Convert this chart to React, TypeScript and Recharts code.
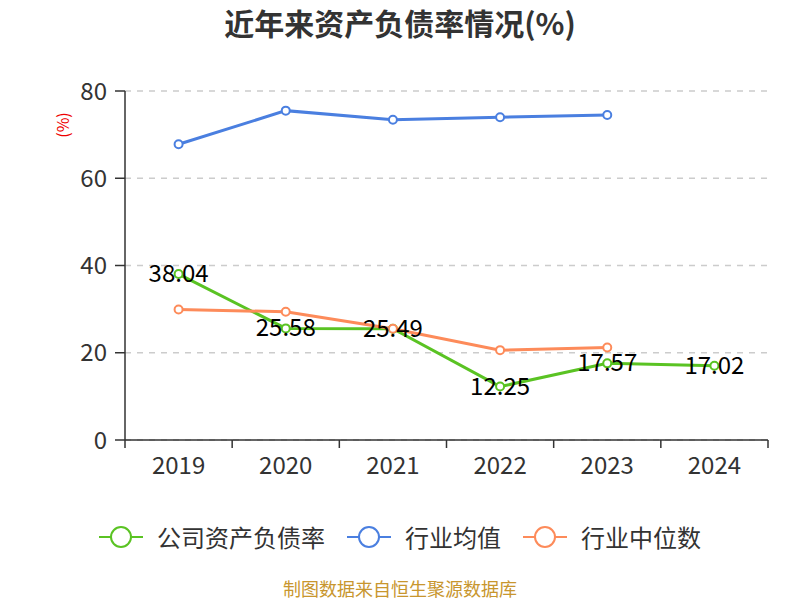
import React from 'react'
import { LineChart, Line, XAxis, YAxis, CartesianGrid, LabelList } from 'recharts'

const years = ['2019', '2020', '2021', '2022', '2023', '2024']
const companyRatio = [38.04, 25.58, 25.49, 12.25, 17.57, 17.02]
const industryAvg = [67.8, 75.5, 73.4, 74.0, 74.5, null]
const industryMedian = [29.9, 29.4, 25.5, 20.6, 21.2, null]
const yTicks = [0, 20, 40, 60, 80]

const data = years.map((year, i) => ({
  year,
  company: companyRatio[i],
  avg: industryAvg[i],
  median: industryMedian[i],
}))

const FONT = '"Noto Sans CJK SC", "Noto Sans", sans-serif'
const GREEN = '#5ac323'
const BLUE = '#4a7fe0'
const ORANGE = '#fd8b5a'

const PLOT_LEFT = 125
const PLOT_RIGHT = 768
const BAND = (PLOT_RIGHT - PLOT_LEFT) / years.length

const XTick = ({ x, y, payload, index }: any) => (
  <g>
    <line x1={x - BAND / 2} y1={y} x2={x - BAND / 2} y2={y + 8} stroke="#333" strokeWidth={1.5} />
    {index === years.length - 1 && (
      <line x1={x + BAND / 2} y1={y} x2={x + BAND / 2} y2={y + 8} stroke="#333" strokeWidth={1.5} />
    )}
    <text x={x} y={y + 34} textAnchor="middle" fontSize={24} fill="#333" fontFamily={FONT}>
      {payload.value}
    </text>
  </g>
)

const ValueLabel = ({ x, y, value }: any) => (
  <text x={x} y={y + 8} textAnchor="middle" fontSize={24} fill="#000" fontFamily={FONT}>
    {Number(value).toFixed(2)}
  </text>
)

const legendItems = [
  { name: '公司资产负债率', color: GREEN },
  { name: '行业均值', color: BLUE },
  { name: '行业中位数', color: ORANGE },
]

const LegendIcon = ({ color }: { color: string }) => (
  <svg width={44} height={24} style={{ display: 'block' }}>
    <line x1={0} y1={12} x2={44} y2={12} stroke={color} strokeWidth={2} />
    <circle cx={22} cy={12} r={10} fill="#fff" stroke={color} strokeWidth={2} />
  </svg>
)

export default function App() {
  return (
    <div style={{ position: 'absolute', left: 0, top: 0, width: 800, height: 600, background: '#fff', fontFamily: FONT, overflow: 'hidden' }}>
      <div style={{ position: 'absolute', top: 2, width: 800, textAlign: 'center', fontSize: 30, lineHeight: '40px', fontWeight: 700, color: '#333' }}>
        近年来资产负债率情况(%)
      </div>
      <div
        style={{
          position: 'absolute', left: 62, top: 125, transform: 'translate(-50%, -50%) rotate(-90deg)',
          color: '#e00', fontSize: 16, whiteSpace: 'nowrap',
        }}
      >
        (%)
      </div>
      <LineChart
        width={800}
        height={600}
        data={data}
        margin={{ top: 91, right: 800 - PLOT_RIGHT, bottom: 130, left: PLOT_LEFT - 60 }}
      >
        <CartesianGrid vertical={false} stroke="#ccc" strokeDasharray="6 6" strokeWidth={1.5} />
        <XAxis
          dataKey="year"
          scale="band"
          height={30}
          axisLine={{ stroke: '#333', strokeWidth: 1.5 }}
          tickLine={false}
          tickSize={0}
          tickMargin={0}
          tick={<XTick />}
          interval={0}
        />
        <YAxis
          width={60}
          domain={[0, 80]}
          ticks={yTicks}
          axisLine={{ stroke: '#333', strokeWidth: 1.5 }}
          tickLine={{ stroke: '#333', strokeWidth: 1.5 }}
          tickSize={10}
          tickMargin={8}
          tick={{ fontSize: 24, fill: '#333', fontFamily: FONT }}
        />
        <Line
          dataKey="company"
          stroke={GREEN}
          strokeWidth={3}
          dot={{ r: 4, fill: '#fff', stroke: GREEN, strokeWidth: 2 }}
          activeDot={false}
          isAnimationActive={false}
        />
        <Line
          dataKey="avg"
          stroke={BLUE}
          strokeWidth={3}
          dot={{ r: 4, fill: '#fff', stroke: BLUE, strokeWidth: 2 }}
          activeDot={false}
          isAnimationActive={false}
        />
        <Line
          dataKey="median"
          stroke={ORANGE}
          strokeWidth={3}
          dot={{ r: 4, fill: '#fff', stroke: ORANGE, strokeWidth: 2 }}
          activeDot={false}
          isAnimationActive={false}
        />
        <Line dataKey="company" stroke="none" dot={false} activeDot={false} isAnimationActive={false}>
          <LabelList dataKey="company" content={<ValueLabel />} />
        </Line>
      </LineChart>
      <div
        style={{
          position: 'absolute', top: 522, width: 800, display: 'flex', justifyContent: 'center',
          alignItems: 'center', gap: 22, fontSize: 24, lineHeight: '30px', color: '#333',
        }}
      >
        {legendItems.map((item) => (
          <div key={item.name} style={{ display: 'flex', alignItems: 'center', gap: 14 }}>
            <LegendIcon color={item.color} />
            <span>{item.name}</span>
          </div>
        ))}
      </div>
      <div style={{ position: 'absolute', top: 577, width: 800, textAlign: 'center', fontSize: 18, lineHeight: '22px', color: '#c8962e' }}>
        制图数据来自恒生聚源数据库
      </div>
    </div>
  )
}
